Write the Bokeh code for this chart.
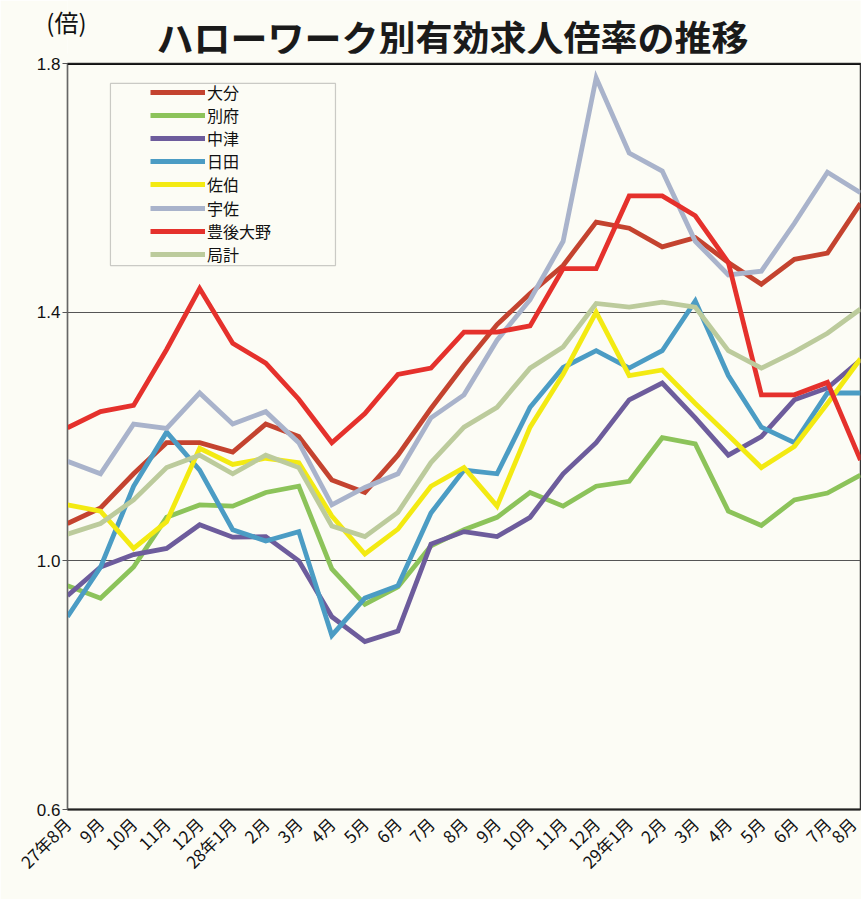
import math
from bokeh.plotting import figure
from bokeh.layouts import column
from bokeh.models import (Range1d, FixedTicker, Legend, LegendItem,
                          BoxAnnotation, Span)
from bokeh.core.properties import value
from bokeh.embed import file_html
from bokeh.resources import INLINE

months = ["27年8月", "9月", "10月", "11月", "12月", "28年1月", "2月", "3月", "4月",
          "5月", "6月", "7月", "8月", "9月", "10月", "11月", "12月", "29年1月",
          "2月", "3月", "4月", "5月", "6月", "7月", "8月"]

oita = [1.06, 1.085, 1.14, 1.19, 1.19, 1.175, 1.22, 1.20, 1.13, 1.11, 1.17, 1.245,
        1.315, 1.38, 1.43, 1.475, 1.545, 1.535, 1.505, 1.52, 1.48, 1.445, 1.485,
        1.495, 1.575]
beppu = [0.96, 0.94, 0.99, 1.07, 1.09, 1.088, 1.11, 1.12, 0.987, 0.93, 0.958, 1.024,
         1.05, 1.07, 1.11, 1.088, 1.12, 1.128, 1.198, 1.188, 1.08, 1.057, 1.098,
         1.109, 1.138]
nakatsu = [0.944, 0.99, 1.01, 1.02, 1.058, 1.038, 1.039, 1.0, 0.91, 0.87, 0.887,
           1.027, 1.047, 1.039, 1.07, 1.14, 1.19, 1.259, 1.286, 1.23, 1.17, 1.20,
           1.259, 1.278, 1.323]
hita = [0.91, 0.99, 1.12, 1.207, 1.146, 1.05, 1.032, 1.047, 0.88, 0.94, 0.96, 1.077,
        1.146, 1.14, 1.247, 1.311, 1.338, 1.31, 1.338, 1.418, 1.298, 1.215, 1.19,
        1.27, 1.27]
saiki = [1.09, 1.08, 1.02, 1.063, 1.181, 1.155, 1.165, 1.158, 1.072, 1.011, 1.051,
         1.12, 1.15, 1.088, 1.215, 1.30, 1.40, 1.298, 1.307, 1.253, 1.202, 1.15,
         1.184, 1.253, 1.325]
usa = [1.16, 1.14, 1.22, 1.213, 1.27, 1.22, 1.24, 1.19, 1.09, 1.118, 1.14, 1.23,
       1.267, 1.355, 1.42, 1.514, 1.777, 1.656, 1.627, 1.514, 1.46, 1.466, 1.543,
       1.625, 1.592]
bungoono = [1.214, 1.24, 1.25, 1.34, 1.438, 1.35, 1.318, 1.26, 1.19, 1.237, 1.30,
            1.31, 1.368, 1.368, 1.378, 1.47, 1.47, 1.587, 1.587, 1.555, 1.48, 1.267,
            1.267, 1.287, 1.162]
kyokukei = [1.043, 1.06, 1.098, 1.15, 1.17, 1.14, 1.17, 1.15, 1.056, 1.039, 1.078,
            1.158, 1.215, 1.247, 1.31, 1.344, 1.414, 1.408, 1.416, 1.408, 1.338, 1.31,
            1.336, 1.366, 1.405]

series_names = ["大分", "別府", "中津", "日田", "佐伯", "宇佐", "豊後大野", "局計"]
series_values = [oita, beppu, nakatsu, hita, saiki, usa, bungoono, kyokukei]
series_colors = ["#c4432f", "#8cc35a", "#6d5c9c", "#4b9cc4", "#f3ea12", "#a9b3cb",
                 "#e5312c", "#bccb9c"]

y_ticks = [0.6, 1.0, 1.4, 1.8]
y_tick_labels = ["0.6", "1.0", "1.4", "1.8"]

title_text = "ハローワーク別有効求人倍率の推移"
unit_text = "(倍)"

BG = "#fcfcf5"
FONT = "Noto Sans CJK JP"

# ---- header (title + unit) ----
header = figure(width=861, height=63, output_backend="svg", toolbar_location=None,
                x_range=Range1d(67, 860), y_range=Range1d(63, 0),
                x_axis_location=None, y_axis_location="left", min_border=0)
header.background_fill_color = BG
header.border_fill_color = BG
header.outline_line_color = None
header.grid.visible = False
header.text(x=[452], y=[36], text=[title_text], text_align="center",
            text_baseline="middle", text_font=value(FONT), text_font_size="37px",
            text_font_style="bold", text_color="#1a1a1a")
header.yaxis.ticker = FixedTicker(ticks=[21])
header.yaxis.major_label_overrides = {21: unit_text}
header.yaxis.major_label_text_font = FONT
header.yaxis.major_label_text_font_size = "24px"
header.yaxis.major_label_text_color = "#111111"
header.yaxis.major_label_standoff = -19
header.yaxis.major_tick_in = 0
header.yaxis.major_tick_out = 0
header.yaxis.major_tick_line_color = None
header.yaxis.minor_tick_line_color = None
header.yaxis.axis_line_color = None

# ---- main chart ----
p = figure(width=861, height=846, output_backend="svg", toolbar_location=None,
           x_range=Range1d(0, len(months) - 1), y_range=Range1d(0.6, 1.8),
           min_border_left=67, min_border_right=1, min_border_top=10,
           min_border_bottom=90, margin=(-10, 0, 0, 0))
p.background_fill_color = BG
p.border_fill_color = BG
p.outline_line_color = "#333333"
p.outline_line_width = 1.5

xs = list(range(len(months)))
renderers = []
for name, vals, col in zip(series_names, series_values, series_colors):
    r = p.line(xs, vals, line_color=col, line_width=4.8, line_join="miter")
    renderers.append(r)

p.xaxis.ticker = FixedTicker(ticks=xs)
p.xaxis.major_label_overrides = {i: m for i, m in enumerate(months)}
p.xaxis.major_label_orientation = math.pi / 4
p.xaxis.major_label_text_font = FONT
p.xaxis.major_label_text_font_size = "17px"
p.xaxis.major_label_text_color = "#111111"
p.xaxis.major_tick_line_color = None
p.xaxis.minor_tick_line_color = None
p.xaxis.axis_line_color = "#222222"
p.xaxis.axis_line_width = 2
p.xaxis.major_label_standoff = 5

p.yaxis.ticker = FixedTicker(ticks=y_ticks)
p.yaxis.major_label_overrides = {t: l for t, l in zip(y_ticks, y_tick_labels)}
p.yaxis.major_label_text_font = "Liberation Sans"
p.yaxis.major_label_text_font_size = "17px"
p.yaxis.major_label_text_color = "#111111"
p.yaxis.major_tick_out = 5
p.yaxis.major_tick_in = 0
p.yaxis.major_tick_line_color = "#555555"
p.yaxis.minor_tick_line_color = None
p.yaxis.axis_line_color = "#666666"
p.yaxis.major_label_standoff = 2

p.xgrid.grid_line_color = None
p.ygrid.ticker = FixedTicker(ticks=y_ticks)
p.ygrid.grid_line_color = "#555555"
p.ygrid.grid_line_width = 1.2

p.add_layout(Span(location=1.8, dimension="width", line_color="#111111",
                  line_width=3))

# legend frame
p.add_layout(BoxAnnotation(left=1.30, right=8.11, top=1.768, bottom=1.475,
                           fill_color=BG, fill_alpha=1.0, line_color="#555555",
                           line_width=1.2, level="overlay"))

# one legend per entry so that the row pitch matches the reference
for i, (name, r) in enumerate(zip(series_names, renderers)):
    lg = Legend(items=[LegendItem(label=name, renderers=[r])],
                location=(83, int(round(705.4 - 23.2 * i))), padding=0, spacing=0,
                glyph_width=55, glyph_height=20, label_height=20,
                label_standoff=2, label_text_font=FONT,
                label_text_font_size="16px", label_text_color="#111111",
                border_line_color=None, background_fill_alpha=0)
    p.add_layout(lg)

layout = column(header, p, spacing=0)
open("out.html", "w").write(file_html(layout, INLINE))
